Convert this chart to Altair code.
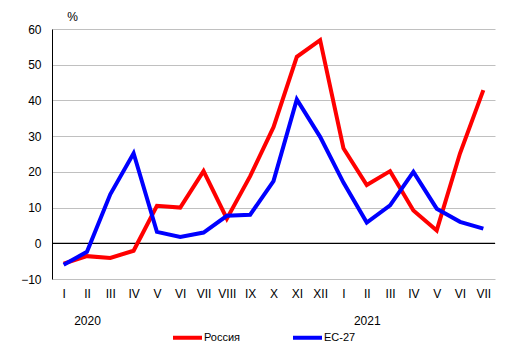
import altair as alt
import pandas as pd

months = ["I", "II", "III", "IV", "V", "VI", "VII", "VIII", "IX", "X", "XI", "XII",
          "I", "II", "III", "IV", "V", "VI", "VII"]
years = {1: "2020", 13: "2021"}
russia = [-5.7, -3.6, -4.1, -2.1, 10.5, 10.0, 20.2, 6.9, 18.8, 32.5, 52.2, 56.9,
          26.6, 16.3, 20.2, 9.2, 3.6, 25.2, 42.9]
eu27 = [-6.0, -2.4, 13.7, 25.2, 3.2, 1.8, 3.0, 7.7, 8.0, 17.4, 40.3, 29.8,
        17.0, 5.8, 10.6, 20.0, 9.7, 6.0, 4.1]
series = ["Россия", "ЕС-27"]
colors = ["#FF0000", "#0000FF"]

rows = []
for i, v in enumerate(russia):
    rows.append({"idx": i, "value": v, "series": series[0]})
for i, v in enumerate(eu27):
    rows.append({"idx": i, "value": v, "series": series[1]})
df = pd.DataFrame(rows)

label_arr = "[" + ",".join(
    ("['%s','%s']" % (m, years[i])) if i in years else "'%s'" % m
    for i, m in enumerate(months)) + "]"

FONT = "Liberation Sans"

x_enc = alt.X("idx:Q", scale=alt.Scale(domain=[-0.5, len(months) - 0.5], nice=False, zero=False),
              axis=alt.Axis(values=list(range(len(months))), labelExpr=label_arr + "[datum.value]",
                            grid=False, ticks=False, domain=False, title=None,
                            labelFont=FONT, labelFontSize=12, labelColor="#000",
                            labelPadding=9, labelLineHeight=27, labelBaseline="top",
                            labelFlush=False, labelOverlap=False))
y_enc = alt.Y("value:Q", scale=alt.Scale(domain=[-10, 60], nice=False),
              axis=alt.Axis(values=list(range(-10, 61, 10)), grid=True, gridColor="#C0C0C0",
                            gridWidth=1, ticks=False, domain=True, domainColor="#000",
                            domainWidth=1, labelFont=FONT, labelFontSize=12,
                            labelColor="#000", labelPadding=11, labelOverlap=False,
                            labelFlush=False,
                            title="%", titleAngle=0, titleX=20, titleY=-13,
                            titleAlign="center", titleBaseline="middle",
                            titleFont=FONT, titleFontSize=12, titleFontWeight="normal",
                            titleColor="#000"))
color_enc = alt.Color("series:N", scale=alt.Scale(domain=series, range=colors),
                      sort=series,
                      legend=alt.Legend(title=None, orient="none", direction="horizontal",
                                        legendX=119, legendY=292, symbolType="stroke",
                                        symbolSize=841, symbolStrokeWidth=4,
                                        labelFont=FONT, labelFontSize=11, labelColor="#000",
                                        labelOffset=0, columnPadding=44))

zero = alt.Chart(pd.DataFrame({"value": [0]})).mark_rule(color="#000", strokeWidth=1.2).encode(y=y_enc)

red = alt.Chart(df).transform_filter(alt.datum.series == series[0]).mark_line(strokeWidth=4).encode(
    x=x_enc, y=y_enc, color=color_enc)
blue = alt.Chart(df).transform_filter(alt.datum.series == series[1]).mark_line(strokeWidth=4).encode(
    x=x_enc, y=y_enc, color=color_enc)

chart = alt.layer(zero, red, blue).properties(
    width=443, height=250,
    autosize=alt.AutoSizeParams(type="none"),
    padding={"left": 44, "top": 21, "right": 12, "bottom": 78},
    background="white",
).configure_view(stroke=None)

chart.save("out.html", embed_options={"renderer": "svg", "actions": False})
